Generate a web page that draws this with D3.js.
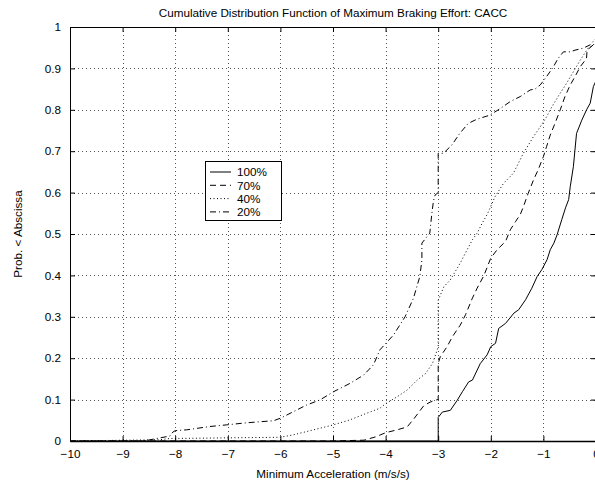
<!DOCTYPE html>
<html lang="en">
<head>
<meta charset="UTF-8">
<title>CDF of Maximum Braking Effort: CACC</title>
<script src="https://d3js.org/d3.v7.min.js"></script>
<style>
  body { margin: 0; background: #fff; }
  svg text { font-family: "Liberation Sans", Arial, Helvetica, sans-serif; fill: #000; }
</style>
</head>
<body>
<script>
// tick values
const xTicks = [-10, -9, -8, -7, -6, -5, -4, -3, -2, -1, 0];
const yTicks = [0, 0.1, 0.2, 0.3, 0.4, 0.5, 0.6, 0.7, 0.8, 0.9, 1];
const seriesNames = ['100%', '70%', '40%', '20%'];

// 100% (solid)
const x100 = [-10, -3.0, -3.0, -2.92, -2.77, -2.64, -2.54, -2.42, -2.35, -2.2, -2.07, -2.0, -1.91, -1.85, -1.72, -1.56, -1.47, -1.34, -1.22, -1.12, -1.03, -0.93, -0.87, -0.8, -0.74, -0.65, -0.58, -0.52, -0.49, -0.43, -0.40, -0.37, -0.27, -0.18, -0.11, -0.05, 0];
const p100 = [0, 0, 0.057, 0.07, 0.074, 0.098, 0.119, 0.143, 0.147, 0.187, 0.208, 0.228, 0.236, 0.272, 0.284, 0.309, 0.317, 0.341, 0.369, 0.397, 0.414, 0.438, 0.462, 0.478, 0.498, 0.535, 0.563, 0.583, 0.614, 0.663, 0.703, 0.743, 0.775, 0.80, 0.816, 0.856, 0.87];

// 70% (dashed)
const x70 = [-10, -5.0, -4.41, -4.19, -4.0, -3.78, -3.59, -3.46, -3.27, -3.15, -3.05, -3.0, -3.0, -2.96, -2.83, -2.73, -2.58, -2.48, -2.35, -2.26, -2.13, -2.0, -1.88, -1.72, -1.63, -1.53, -1.44, -1.38, -1.29, -1.19, -1.10, -1.0, -0.94, -0.87, -0.78, -0.68, -0.59, -0.49, -0.40, -0.30, -0.18, -0.17, -0.05, 0];
const p70 = [0, 0, 0.002, 0.01, 0.02, 0.027, 0.034, 0.054, 0.086, 0.094, 0.099, 0.1, 0.187, 0.204, 0.228, 0.252, 0.28, 0.305, 0.345, 0.369, 0.40, 0.442, 0.462, 0.482, 0.51, 0.53, 0.547, 0.566, 0.598, 0.63, 0.655, 0.687, 0.711, 0.739, 0.767, 0.80, 0.832, 0.86, 0.88, 0.904, 0.924, 0.944, 0.957, 0.962];

// 40% (dotted)
const x40 = [-10, -8.3, -8.1, -6.0, -5.75, -5.37, -4.99, -4.68, -4.36, -4.11, -4.0, -3.78, -3.59, -3.4, -3.24, -3.11, -3.02, -3.0, -3.0, -2.89, -2.77, -2.58, -2.45, -2.35, -2.26, -2.16, -2.07, -1.92, -1.76, -1.57, -1.38, -1.19, -1.06, -0.94, -0.84, -0.72, -0.56, -0.43, -0.30, -0.15, -0.05, 0];
const p40 = [0, 0.003, 0.006, 0.009, 0.015, 0.027, 0.039, 0.051, 0.067, 0.079, 0.09, 0.107, 0.123, 0.147, 0.163, 0.187, 0.219, 0.228, 0.34, 0.373, 0.389, 0.43, 0.462, 0.486, 0.502, 0.527, 0.547, 0.59, 0.622, 0.647, 0.695, 0.735, 0.759, 0.783, 0.807, 0.832, 0.864, 0.892, 0.92, 0.949, 0.957, 0.965];

// 20% (dash-dot)
const x20 = [-10, -8.6, -8.35, -8.1, -8.04, -8.0, -7.78, -7.34, -7.02, -6.64, -6.13, -6.0, -5.75, -5.5, -5.25, -4.99, -4.68, -4.42, -4.23, -4.11, -3.85, -3.63, -3.47, -3.35, -3.31, -3.31, -3.16, -3.12, -3.09, -3.06, -3.0, -3.0, -2.9, -2.74, -2.59, -2.43, -2.27, -2.02, -1.82, -1.63, -1.44, -1.25, -1.16, -1.06, -0.94, -0.81, -0.72, -0.62, -0.49, -0.40, -0.24, -0.11, 0];
const p20 = [0, 0, 0.006, 0.012, 0.022, 0.025, 0.027, 0.035, 0.039, 0.044, 0.049, 0.055, 0.071, 0.087, 0.099, 0.119, 0.139, 0.159, 0.184, 0.22, 0.256, 0.30, 0.345, 0.397, 0.437, 0.478, 0.502, 0.55, 0.58, 0.594, 0.60, 0.695, 0.695, 0.715, 0.743, 0.767, 0.777, 0.787, 0.803, 0.82, 0.832, 0.848, 0.85, 0.86, 0.88, 0.904, 0.924, 0.94, 0.94, 0.944, 0.949, 0.957, 0.973];

const W = 595, H = 485;
const plotL = 70, plotR = 596, plotT = 27, plotB = 441;
const fontSize = 11.7;

const svg = d3.select('body').append('svg')
    .attr('width', W)
    .attr('height', H);

const x = d3.scaleLinear().domain([-10, 0]).range([plotL, plotR]);
const y = d3.scaleLinear().domain([0, 1]).range([plotB, plotT]);

const fmtX = d => d === 0 ? '0' : '\u2212' + Math.abs(d);

// grid (dotted)
const grid = svg.append('g')
    .attr('stroke', '#555')
    .attr('stroke-width', 1)
    .attr('stroke-dasharray', '1,3');
grid.selectAll('line.gx')
    .data(xTicks.slice(1, -1))
    .enter().append('line')
    .attr('x1', d => Math.round(x(d)) + 0.5).attr('x2', d => Math.round(x(d)) + 0.5)
    .attr('y1', plotT).attr('y2', plotB);
grid.selectAll('line.gy')
    .data(yTicks.slice(1, -1))
    .enter().append('line')
    .attr('x1', plotL).attr('x2', plotR)
    .attr('y1', d => Math.round(y(d)) + 0.5).attr('y2', d => Math.round(y(d)) + 0.5);

// axes, matlab style box with inward ticks
const axisBottom = d3.axisBottom(x).tickValues(xTicks).tickSizeInner(-5).tickSizeOuter(0).tickPadding(9).tickFormat(fmtX);
const axisTop = d3.axisTop(x).tickValues(xTicks).tickSizeInner(-5).tickSizeOuter(0).tickFormat('');
const axisLeft = d3.axisLeft(y).tickValues(yTicks).tickSizeInner(-5).tickSizeOuter(0).tickPadding(9).tickFormat(d3.format('~g'));
const axisRight = d3.axisRight(y).tickValues(yTicks).tickSizeInner(-5).tickSizeOuter(0).tickFormat('');

function styleAxis(g) {
    g.selectAll('path, line').attr('stroke', '#000').attr('stroke-width', 1);
    g.selectAll('text').attr('font-size', fontSize).attr('fill', '#000')
        .style('font-family', '"Liberation Sans", Arial, sans-serif');
}

svg.append('g').attr('transform', `translate(0,${plotB})`).call(axisBottom).call(styleAxis)
    .select('path.domain').attr('stroke-width', 1.6);
svg.append('g').attr('transform', `translate(0,${plotT})`).call(axisTop).call(styleAxis);
svg.append('g').attr('transform', `translate(${plotL},0)`).call(axisLeft).call(styleAxis);
svg.append('g').attr('transform', `translate(${plotR},0)`).call(axisRight).call(styleAxis);

// curves
const series = [
    { xs: x100, ps: p100, dash: null },
    { xs: x70, ps: p70, dash: '6,4' },
    { xs: x40, ps: p40, dash: '1,2.5' },
    { xs: x20, ps: p20, dash: '6,3,1,3' }
];

const line = d3.line()
    .x(d => x(d[0]))
    .y(d => y(d[1]));

svg.append('g').selectAll('path')
    .data(series)
    .enter().append('path')
    .attr('d', s => line(s.xs.map((v, i) => [v, s.ps[i]])))
    .attr('fill', 'none')
    .attr('stroke', '#000')
    .attr('stroke-width', 1)
    .attr('stroke-dasharray', s => s.dash);

// legend
const lg = svg.append('g');
lg.append('rect')
    .attr('x', 205.5).attr('y', 161.5)
    .attr('width', 76).attr('height', 59)
    .attr('fill', '#fff').attr('stroke', '#000').attr('stroke-width', 1);
seriesNames.forEach((name, i) => {
    const yy = 172 + i * 13.3;
    lg.append('line')
        .attr('x1', 210).attr('x2', 231)
        .attr('y1', yy).attr('y2', yy)
        .attr('stroke', '#000').attr('stroke-width', 1)
        .attr('stroke-dasharray', series[i].dash);
    lg.append('text')
        .attr('x', 237).attr('y', yy + 4.2)
        .attr('font-size', fontSize)
        .text(name);
});

// titles
svg.append('text')
    .attr('x', (plotL + plotR) / 2).attr('y', 17)
    .attr('text-anchor', 'middle').attr('font-size', fontSize)
    .text('Cumulative Distribution Function of Maximum Braking Effort: CACC');
svg.append('text')
    .attr('x', (plotL + plotR) / 2).attr('y', 478)
    .attr('text-anchor', 'middle').attr('font-size', fontSize)
    .text('Minimum Acceleration (m/s/s)');
svg.append('text')
    .attr('transform', `translate(22,${(plotT + plotB) / 2}) rotate(-90)`)
    .attr('text-anchor', 'middle').attr('font-size', fontSize)
    .text('Prob. < Abscissa');
</script>
</body>
</html>
